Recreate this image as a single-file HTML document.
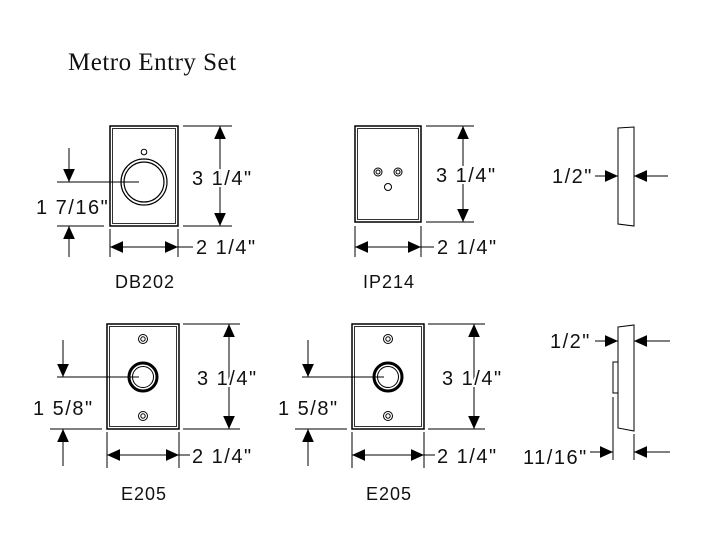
<!DOCTYPE html>
<html><head><meta charset="utf-8"><style>
body{margin:0;background:#fff}
svg{display:block}
text{font-family:"Liberation Sans",sans-serif;font-size:20px;letter-spacing:1.5px;fill:#111;stroke:#fff;stroke-width:4px;paint-order:stroke}
</style></head><body>
<svg width="705" height="546" viewBox="0 0 705 546" xmlns="http://www.w3.org/2000/svg">
<defs>
<marker id="a" viewBox="0 0 10 10" refX="10" refY="5" markerWidth="13" markerHeight="13" markerUnits="userSpaceOnUse" orient="auto"><path d="M0,0.5 L10,5 L0,9.5 z" fill="#000"/></marker>
</defs>
<text x="68" y="70" style="font-family:'Liberation Serif',serif;font-size:25px;letter-spacing:0.5px">Metro Entry Set</text>
<g stroke="#000" stroke-width="1" fill="none">
<rect x="110" y="126" width="68" height="100" stroke-width="1.5"/>
<rect x="112.5" y="128.5" width="63" height="95" stroke-width="0.8"/>
<circle cx="144" cy="152" r="2.8"/>
<circle cx="144" cy="182" r="23" stroke-width="1.2"/>
<circle cx="144" cy="182" r="20" stroke-width="1.2"/>
<line x1="57" y1="182" x2="139" y2="182"/>
<line x1="69" y1="148" x2="69" y2="182" marker-end="url(#a)"/>
<line x1="57" y1="226" x2="104" y2="226"/>
<line x1="69" y1="257" x2="69" y2="226" marker-end="url(#a)"/>
<line x1="183" y1="126" x2="232" y2="126"/>
<line x1="183" y1="226" x2="232" y2="226"/>
<line x1="220" y1="176" x2="220" y2="126" marker-end="url(#a)"/>
<line x1="220" y1="176" x2="220" y2="226" marker-end="url(#a)"/>
<line x1="110" y1="229" x2="110" y2="257"/>
<line x1="178" y1="229" x2="178" y2="257"/>
<line x1="144" y1="247" x2="110" y2="247" marker-end="url(#a)"/>
<line x1="144" y1="247" x2="178" y2="247" marker-end="url(#a)"/>
<line x1="178" y1="247" x2="193" y2="247"/>
<rect x="355" y="126" width="66" height="96" stroke-width="1.5"/>
<rect x="357.5" y="128.5" width="61" height="91" stroke-width="0.8"/>
<circle cx="378" cy="172" r="4"/><circle cx="378" cy="172" r="2"/>
<circle cx="398" cy="172" r="4"/><circle cx="398" cy="172" r="2"/>
<circle cx="388" cy="187" r="3.5"/>
<line x1="426" y1="126" x2="474" y2="126"/>
<line x1="426" y1="222" x2="474" y2="222"/>
<line x1="463" y1="174" x2="463" y2="126" marker-end="url(#a)"/>
<line x1="463" y1="174" x2="463" y2="222" marker-end="url(#a)"/>
<line x1="355" y1="226" x2="355" y2="257"/>
<line x1="421" y1="226" x2="421" y2="257"/>
<line x1="388" y1="247" x2="355" y2="247" marker-end="url(#a)"/>
<line x1="388" y1="247" x2="421" y2="247" marker-end="url(#a)"/>
<line x1="421" y1="247" x2="434" y2="247"/>
<path d="M618,128 L634,127 L634,226 L618,224 Z"/>
<line x1="595" y1="176" x2="618" y2="176" marker-end="url(#a)"/>
<line x1="668" y1="176" x2="634" y2="176" marker-end="url(#a)"/>
<path d="M618,327 L634,325 L634,431 L618,428 Z"/>
<path d="M618,362 L613,362 L613,393 L618,393"/>
<line x1="613" y1="397" x2="613" y2="460"/>
<line x1="634" y1="434" x2="634" y2="460"/>
<line x1="595" y1="341" x2="618" y2="341" marker-end="url(#a)"/>
<line x1="670" y1="341" x2="634" y2="341" marker-end="url(#a)"/>
<line x1="590" y1="452" x2="613" y2="452" marker-end="url(#a)"/>
<line x1="670" y1="452" x2="634" y2="452" marker-end="url(#a)"/>
</g>
<g id="e" stroke="#000" stroke-width="1" fill="none">
<rect x="107" y="324" width="72" height="105" stroke-width="1.5"/>
<rect x="109.5" y="326.5" width="67" height="100" stroke-width="0.8"/>
<circle cx="143" cy="339" r="4.5"/><circle cx="143" cy="339" r="2.2"/>
<circle cx="143" cy="416" r="4.5"/><circle cx="143" cy="416" r="2.2"/>
<circle cx="143" cy="377" r="14" stroke-width="3"/>
<circle cx="143" cy="377" r="10.5" stroke-width="1"/>
<line x1="57" y1="377" x2="139" y2="377"/>
<line x1="63" y1="340" x2="63" y2="377" marker-end="url(#a)"/>
<line x1="50" y1="429" x2="102" y2="429"/>
<line x1="63" y1="466" x2="63" y2="429" marker-end="url(#a)"/>
<line x1="183" y1="324" x2="240" y2="324"/>
<line x1="183" y1="429" x2="240" y2="429"/>
<line x1="229" y1="376" x2="229" y2="324" marker-end="url(#a)"/>
<line x1="229" y1="376" x2="229" y2="429" marker-end="url(#a)"/>
<line x1="107" y1="432" x2="107" y2="468"/>
<line x1="179" y1="432" x2="179" y2="468"/>
<line x1="143" y1="455" x2="107" y2="455" marker-end="url(#a)"/>
<line x1="143" y1="455" x2="179" y2="455" marker-end="url(#a)"/>
<line x1="179" y1="455" x2="190" y2="455"/>
</g>
<use href="#e" transform="translate(245,0)"/>
<text x="192" y="185">3 1/4"</text>
<text x="36" y="214">1 7/16"</text>
<text x="196" y="254">2 1/4"</text>
<text x="115" y="288" style="font-size:18px;letter-spacing:1px">DB202</text>
<text x="436" y="182">3 1/4"</text>
<text x="437" y="254">2 1/4"</text>
<text x="363" y="288" style="font-size:18px;letter-spacing:1px">IP214</text>
<text x="552" y="183">1/2"</text>
<text x="550" y="348">1/2"</text>
<text x="523" y="464">11/16"</text>
<text x="197" y="385">3 1/4"</text>
<text x="33" y="415">1 5/8"</text>
<text x="192" y="463">2 1/4"</text>
<text x="121" y="500" style="font-size:18px;letter-spacing:1px">E205</text>
<text x="442" y="385">3 1/4"</text>
<text x="278" y="415">1 5/8"</text>
<text x="437" y="463">2 1/4"</text>
<text x="366" y="500" style="font-size:18px;letter-spacing:1px">E205</text>
</svg>
</body></html>
